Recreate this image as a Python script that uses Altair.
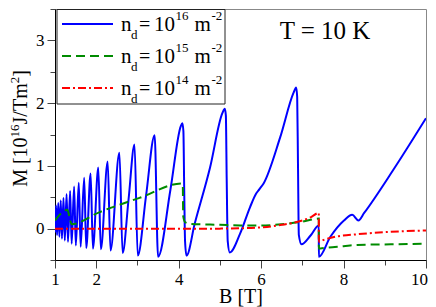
import altair as alt
import pandas as pd

# ---------------- data ----------------
blue_B = [1.000, 1.025, 1.050, 1.079, 1.106, 1.139, 1.169, 1.206, 1.238, 1.281,
          1.315, 1.367, 1.404, 1.464, 1.505, 1.577, 1.622, 1.708, 1.758, 1.864,
          1.920, 2.050, 2.112, 2.278, 2.346, 2.5625, 2.640, 2.785, 2.929, 3.007,
          3.210, 3.417, 3.500, 3.800, 4.050, 4.090, 4.115, 4.135, 4.155, 4.190,
          4.390, 4.760, 5.060, 5.120, 5.145, 5.165, 5.190, 5.240, 5.490, 5.730,
          5.880, 5.960, 6.060, 6.460, 6.790, 6.850, 6.875, 6.895, 6.915, 6.980,
          7.200, 7.399, 7.401, 7.680, 8.010, 8.210, 8.360, 8.500, 9.200, 10.000]
blue_M = [-0.06, 0.37, -0.10, 0.41, -0.13, 0.45, -0.16, 0.49, -0.19, 0.55,
          -0.21, 0.60, -0.24, 0.67, -0.27, 0.73, -0.29, 0.81, -0.31, 0.88,
          -0.32, 0.975, -0.33, 1.07, -0.35, 1.21, -0.39, 0.47, 1.34, -0.43,
          0.53, 1.49, -0.45, 0.62, 1.63, 1.68, 1.55, 0.60, -0.20, -0.43,
          0.08, 0.97, 1.84, 1.91, 1.80, 0.80, -0.20, -0.38, -0.08, 0.34,
          0.56, 0.63, 0.72, 1.45, 2.17, 2.25, 2.10, 1.00, -0.10, -0.25,
          -0.11, 0.05, -0.45, -0.13, 0.13, 0.22, 0.13, 0.25, 0.93, 1.76]

green_B = [1.00, 1.18, 1.30, 1.36, 1.40, 2.07, 3.05, 4.08, 4.10, 4.11, 4.16, 4.30,
           5.00, 5.50, 6.00, 6.50, 7.00, 7.399, 7.401, 7.52, 8.00, 8.33, 9.15, 10.0]
green_M = [0.13, 0.26, 0.30, 0.16, 0.07, 0.26, 0.49, 0.72, 0.70, 0.20, 0.10, 0.075,
           0.06, 0.05, 0.05, 0.07, 0.11, 0.16, -0.32, -0.31, -0.28, -0.26, -0.25, -0.24]

red_B = [1.0, 2.0, 3.0, 4.0, 5.0, 5.5, 6.0, 6.5, 7.0, 7.2, 7.399, 7.401,
         7.52, 7.8, 8.33, 9.15, 10.0]
red_M = [0.0, 0.0, 0.0, 0.0, 0.0, 0.005, 0.02, 0.06, 0.13, 0.18, 0.25, -0.21,
         -0.18, -0.13, -0.09, -0.05, -0.03]

legend_exponents = ["16", "15", "14"]
x_ticks = [1, 2, 3, 4, 5, 6, 7, 8, 9, 10]
x_labeled = [1, 2, 4, 6, 8, 10]
y_ticks = [-0.5, 0, 0.5, 1, 1.5, 2, 2.5, 3, 3.5]
annotation = "T = 10 K"
# y title pieces: (text, is_superscript)
y_title_parts = [("M [10", False), ("16", True), ("J/Tm", False), ("2", True), ("]", False)]

assert len(blue_B) == len(blue_M)
assert len(green_B) == len(green_M)
assert len(red_B) == len(red_M)

# ---------------- styling ----------------
FONT = "Liberation Serif"
BLUE, GREEN, RED = "#0000ff", "#008b00", "#ff0000"
styles = [
    (BLUE, None),
    (GREEN, [9, 5]),
    (RED, [8, 3, 2, 3]),
]

x_scale = alt.Scale(domain=[1, 10], nice=False, zero=False)
y_scale = alt.Scale(domain=[-0.5, 3.5], nice=False, zero=False)

lab = ",".join(str(v) for v in x_labeled)
x_axis = alt.Axis(
    values=x_ticks, grid=False, title="B [T]",
    labelExpr=f"indexof([{lab}], datum.value) >= 0 ? datum.label : ''",
    tickSize={"condition": {"test": f"indexof([{lab}], datum.value) < 0", "value": 5}, "value": 8},
    labelOffset={"condition": {"test": f"datum.value == {x_ticks[-1]}", "value": -7}, "value": 0},
    domainColor="black", tickColor="#444", labelColor="black",
    labelFont=FONT, labelFontSize=17, labelPadding=3, labelFlush=False,
    titleFont=FONT, titleFontSize=20, titleFontWeight="normal", titleColor="black",
    titleBaseline="alphabetic", titleY=42,
)
y_axis = alt.Axis(
    values=y_ticks, grid=False, title=None, format="~g",
    labelExpr="datum.value % 1 == 0 ? datum.label : ''",
    tickSize={"condition": {"test": "datum.value % 1 != 0", "value": 5}, "value": 8},
    domainColor="black", tickColor="#444", labelColor="black",
    labelFont=FONT, labelFontSize=17, labelPadding=3, labelFlush=False,
)

layers = []
for (b, m), (col, dash) in zip([(blue_B, blue_M), (green_B, green_M), (red_B, red_M)], styles):
    kw = dict(color=col, strokeWidth=2, interpolate="monotone", clip=True)
    if dash:
        kw["strokeDash"] = dash
    layers.append(
        alt.Chart(pd.DataFrame({"B": b, "M": m})).mark_line(**kw).encode(
            x=alt.X("B:Q", scale=x_scale, axis=x_axis),
            y=alt.Y("M:Q", scale=y_scale, axis=y_axis),
        )
    )

one = pd.DataFrame({"k": [0]})

# legend box
layers.append(
    alt.Chart(one).mark_rect(fill="white", stroke="#222", strokeWidth=1).encode(
        x=alt.value(2), x2=alt.value(170), y=alt.value(0.5), y2=alt.value(95)
    )
)

def txt(s, px, py, size, align="left", angle=0):
    mk = dict(font=FONT, fontSize=size, align=align, baseline="alphabetic", color="black")
    if angle:
        mk["angle"] = angle
    return alt.Chart(pd.DataFrame({"t": [s]})).mark_text(**mk).encode(
        x=alt.value(px), y=alt.value(py), text="t:N"
    )

rows_y = [15, 47, 79]
for (col, dash), ex, L in zip(styles, legend_exponents, rows_y):
    kw = dict(color=col, strokeWidth=2)
    if dash:
        kw["strokeDash"] = dash
    layers.append(
        alt.Chart(one).mark_rule(**kw).encode(
            x=alt.value(7), x2=alt.value(58), y=alt.value(L)
        )
    )
    base = L + 7
    layers += [
        txt("n", 66, base, 21),
        txt("d", 76, base + 8, 13),
        txt("=", 84, base, 20),
        txt("10", 99, base, 21),
        txt(ex, 120.5, base - 11, 13),
        txt("m", 139.5, base, 21),
        txt("-2", 156.5, base - 11, 13),
    ]

layers.append(txt(annotation, 270, 30, 25, align="center"))

# rotated y-axis title with real superscripts (Times-like advance widths, em units)
adv = {"M": 0.889, " ": 0.25, "[": 0.333, "]": 0.333, "1": 0.5, "0": 0.5, "6": 0.5,
       "2": 0.5, "J": 0.389, "/": 0.278, "T": 0.611, "m": 0.778}
main_fs, sup_fs = 20, 13
widths = [sum(adv[c] for c in s) * (sup_fs if sup else main_fs) for s, sup in y_title_parts]
total = sum(widths)
center_y = 119.5
pos = center_y + total / 2
for (s, sup), w in zip(y_title_parts, widths):
    layers.append(txt(s, -36.5 if sup else -28, pos, sup_fs if sup else main_fs, angle=270))
    pos -= w

chart = alt.layer(*layers).properties(
    width=371, height=251,
    autosize=alt.AutoSizeParams(type="none"),
    padding={"left": 47, "top": 1, "right": 2, "bottom": 47},
    background="white",
).configure_view(stroke="#888", strokeWidth=1)

chart.save("out.html", embed_options={"renderer": "svg", "actions": False})
